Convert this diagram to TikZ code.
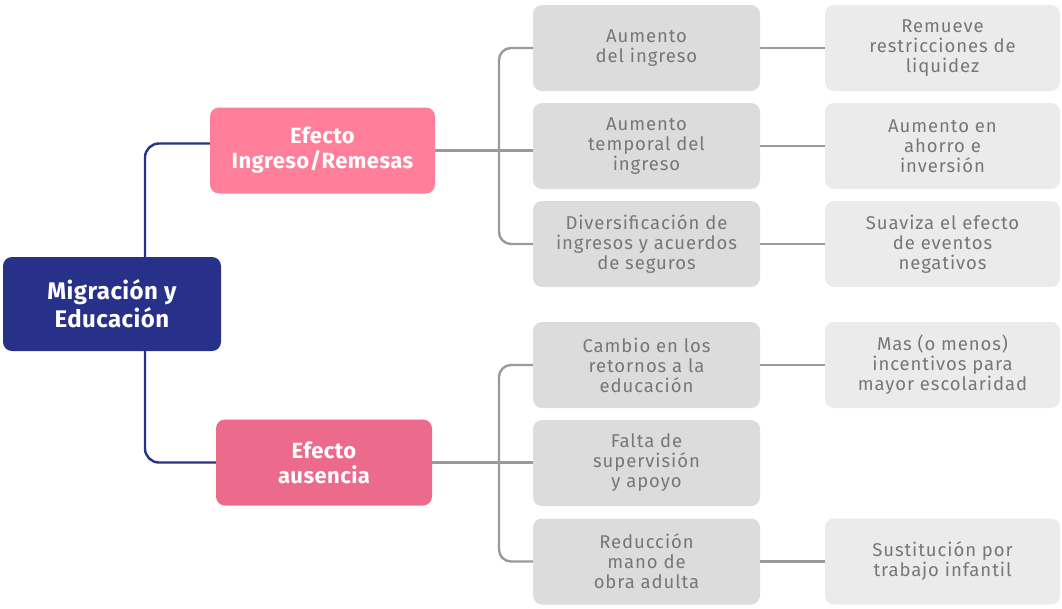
\documentclass[tikz,border=0pt]{standalone}
\usepackage{fontspec}
\setmainfont{Fira Sans}
\usetikzlibrary{calc}
\definecolor{navy}{HTML}{283189}
\definecolor{pinkA}{HTML}{FF7F9A}
\definecolor{pinkB}{HTML}{EC6A8B}
\definecolor{midgray}{HTML}{DCDCDC}
\definecolor{lightgray}{HTML}{EBEBEB}
\definecolor{txtgray}{HTML}{777777}
\definecolor{linegray}{HTML}{9A9A9A}
\begin{document}
\begin{tikzpicture}[x=1pt,y=-1pt,
  box/.style={rounded corners=9pt, inner sep=0pt, align=center, minimum height=86pt},
  rootbox/.style={box, fill=navy, text=white, minimum width=218pt, minimum height=94pt, font=\fontsize{24}{28}\selectfont\bfseries\addfontfeatures{LetterSpace=2}},
  effbox/.style={box, text=white, font=\fontsize{22}{25}\selectfont\bfseries\addfontfeatures{LetterSpace=2}},
  midbox/.style={box, fill=midgray, text=txtgray, minimum width=227pt, font=\fontsize{18.5}{20}\selectfont\addfontfeatures{LetterSpace=5}},
  rbox/.style={box, fill=lightgray, text=txtgray, minimum width=235pt, font=\fontsize{18.5}{20}\selectfont\addfontfeatures{LetterSpace=5}},
  nline/.style={draw=navy, line width=2.4pt, rounded corners=14pt},
  gline/.style={draw=linegray, line width=2.4pt, rounded corners=12pt}]
\useasboundingbox (0,0) rectangle (1062,608);
\node[rootbox] (root) at (112,304) {Migración y\\Educación};
\node[effbox, fill=pinkA, minimum width=225pt] (ing) at (322.5,150.5) {Efecto\\Ingreso/Remesas};
\node[effbox, fill=pinkB, minimum width=216pt] (aus) at (324,462.5) {Efecto\\ausencia};
\node[midbox] (m1) at (646.5,48) {Aumento\\del ingreso};
\node[midbox] (m2) at (646.5,146) {Aumento\\temporal del\\ingreso};
\node[midbox] (m3) at (646.5,244) {Diversificación de\\ingresos y acuerdos\\de seguros};
\node[midbox] (m4) at (646.5,365) {Cambio en los\\retornos a la\\educación};
\node[midbox] (m5) at (646.5,463) {Falta de\\supervisión\\y apoyo};
\node[midbox] (m6) at (646.5,561.5) {Reducción\\mano de\\obra adulta};
\node[rbox] (r1) at (942.5,48) {Remueve\\restricciones de\\liquidez};
\node[rbox] (r2) at (942.5,146) {Aumento en\\ahorro e\\inversión};
\node[rbox] (r3) at (942.5,244) {Suaviza el efecto\\de eventos\\negativos};
\node[rbox] (r4) at (942.5,365) {Mas (o menos)\\incentivos para\\mayor escolaridad};
\node[rbox] (r6) at (942.5,561.5) {Sustitución por\\trabajo infantil};
\coordinate (rt) at (145,257);
\coordinate (rb) at (145,351);
\coordinate (bA) at (499,146);
\coordinate (bB) at (499,463);
\draw[nline] (rt) |- ($(ing.west)+(0,-7)$);
\draw[nline] (rb) |- (aus.west);
\draw[gline] (m1.west) -| (bA) |- (m3.west);
\draw[gline] (ing.east) -- (ing.east -| m2.west);
\draw[gline] (m4.west) -| (bB) |- (m6.west);
\draw[gline] (aus.east) -- (aus.east -| m5.west);
\draw[gline] (m1.east) -- (r1.west);
\draw[gline] (m2.east) -- (r2.west);
\draw[gline] (m3.east) -- (r3.west);
\draw[gline] (m4.east) -- (r4.west);
\draw[gline] (m6.east) -- (r6.west);
\end{tikzpicture}
\end{document}
